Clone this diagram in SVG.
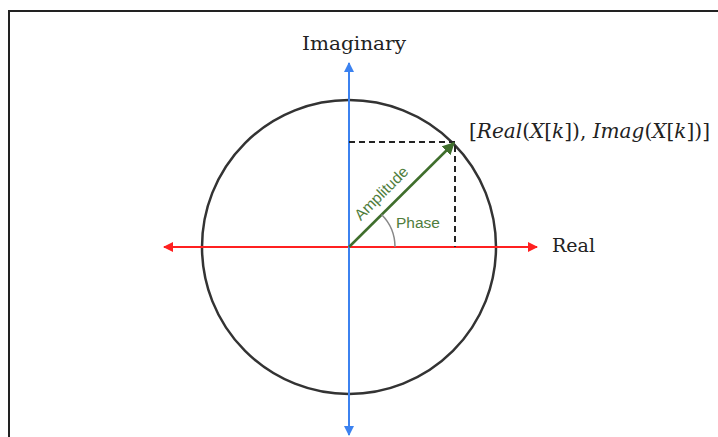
<svg xmlns="http://www.w3.org/2000/svg" width="718" height="437" viewBox="0 0 718 437">
<style>
.lbl{font-family:"DejaVu Serif","Liberation Serif",serif;fill:#222;font-size:19px}
.math{font-family:"DejaVu Serif","Liberation Serif",serif;fill:#222;font-size:20px}
.g{font-family:"Liberation Sans",Arial,sans-serif;fill:#4f7d3c;font-size:15.5px}
.dash{stroke:#222;stroke-width:2;stroke-dasharray:6,4;fill:none}
</style>
<defs>
<marker id="ar" viewBox="0 0 10 10" refX="9" refY="5" markerWidth="5" markerHeight="5" orient="auto-start-reverse"><path d="M0,0L10,5L0,10z" fill="#ff2020"/></marker>
<marker id="ab" viewBox="0 0 10 10" refX="9" refY="5" markerWidth="5" markerHeight="5" orient="auto-start-reverse"><path d="M0,0L10,5L0,10z" fill="#3c82f0"/></marker>
<marker id="ag" viewBox="0 0 10 10" refX="9" refY="5" markerWidth="5" markerHeight="5" orient="auto"><path d="M0,0L10,5L0,10z" fill="#3f6e2c"/></marker>
</defs>
<rect width="718" height="437" fill="#fff"/>
<path d="M9,437V11H718" fill="none" stroke="#222" stroke-width="2"/>
<g id="circle"><circle cx="349" cy="247" r="147" fill="none" stroke="#333" stroke-width="2.5"/></g>
<g id="connectors">
<line x1="164" y1="247" x2="537" y2="247" stroke="#ff2020" stroke-width="2" marker-start="url(#ar)" marker-end="url(#ar)"/>
<line x1="349" y1="63" x2="349" y2="435" stroke="#3c82f0" stroke-width="2" marker-start="url(#ab)" marker-end="url(#ab)"/>
<path class="dash" d="M349,142H455V247"/>
<line x1="349" y1="247" x2="454" y2="143" stroke="#3f6e2c" stroke-width="2.5" marker-end="url(#ag)"/>
<path d="M395,247A46,46 0 0 0 381.5,214.5" fill="none" stroke="#888" stroke-width="1.5"/>
</g>
<g id="imaginary"><text class="lbl" x="302" y="50" textLength="104" lengthAdjust="spacingAndGlyphs">Imaginary</text></g>
<g id="real"><text class="lbl" x="552" y="252" textLength="43" lengthAdjust="spacingAndGlyphs">Real</text></g>
<g id="point"><text class="math" x="469" y="138" textLength="241" lengthAdjust="spacingAndGlyphs">[<tspan font-style="italic">Real</tspan>(<tspan font-style="italic">X</tspan>[<tspan font-style="italic">k</tspan>]), <tspan font-style="italic">Imag</tspan>(<tspan font-style="italic">X</tspan>[<tspan font-style="italic">k</tspan>])]</text></g>
<g id="amplitude"><text class="g" transform="translate(385,197) rotate(-45)" text-anchor="middle">Amplitude</text></g>
<g id="phase"><text class="g" x="396" y="228">Phase</text></g>
</svg>
